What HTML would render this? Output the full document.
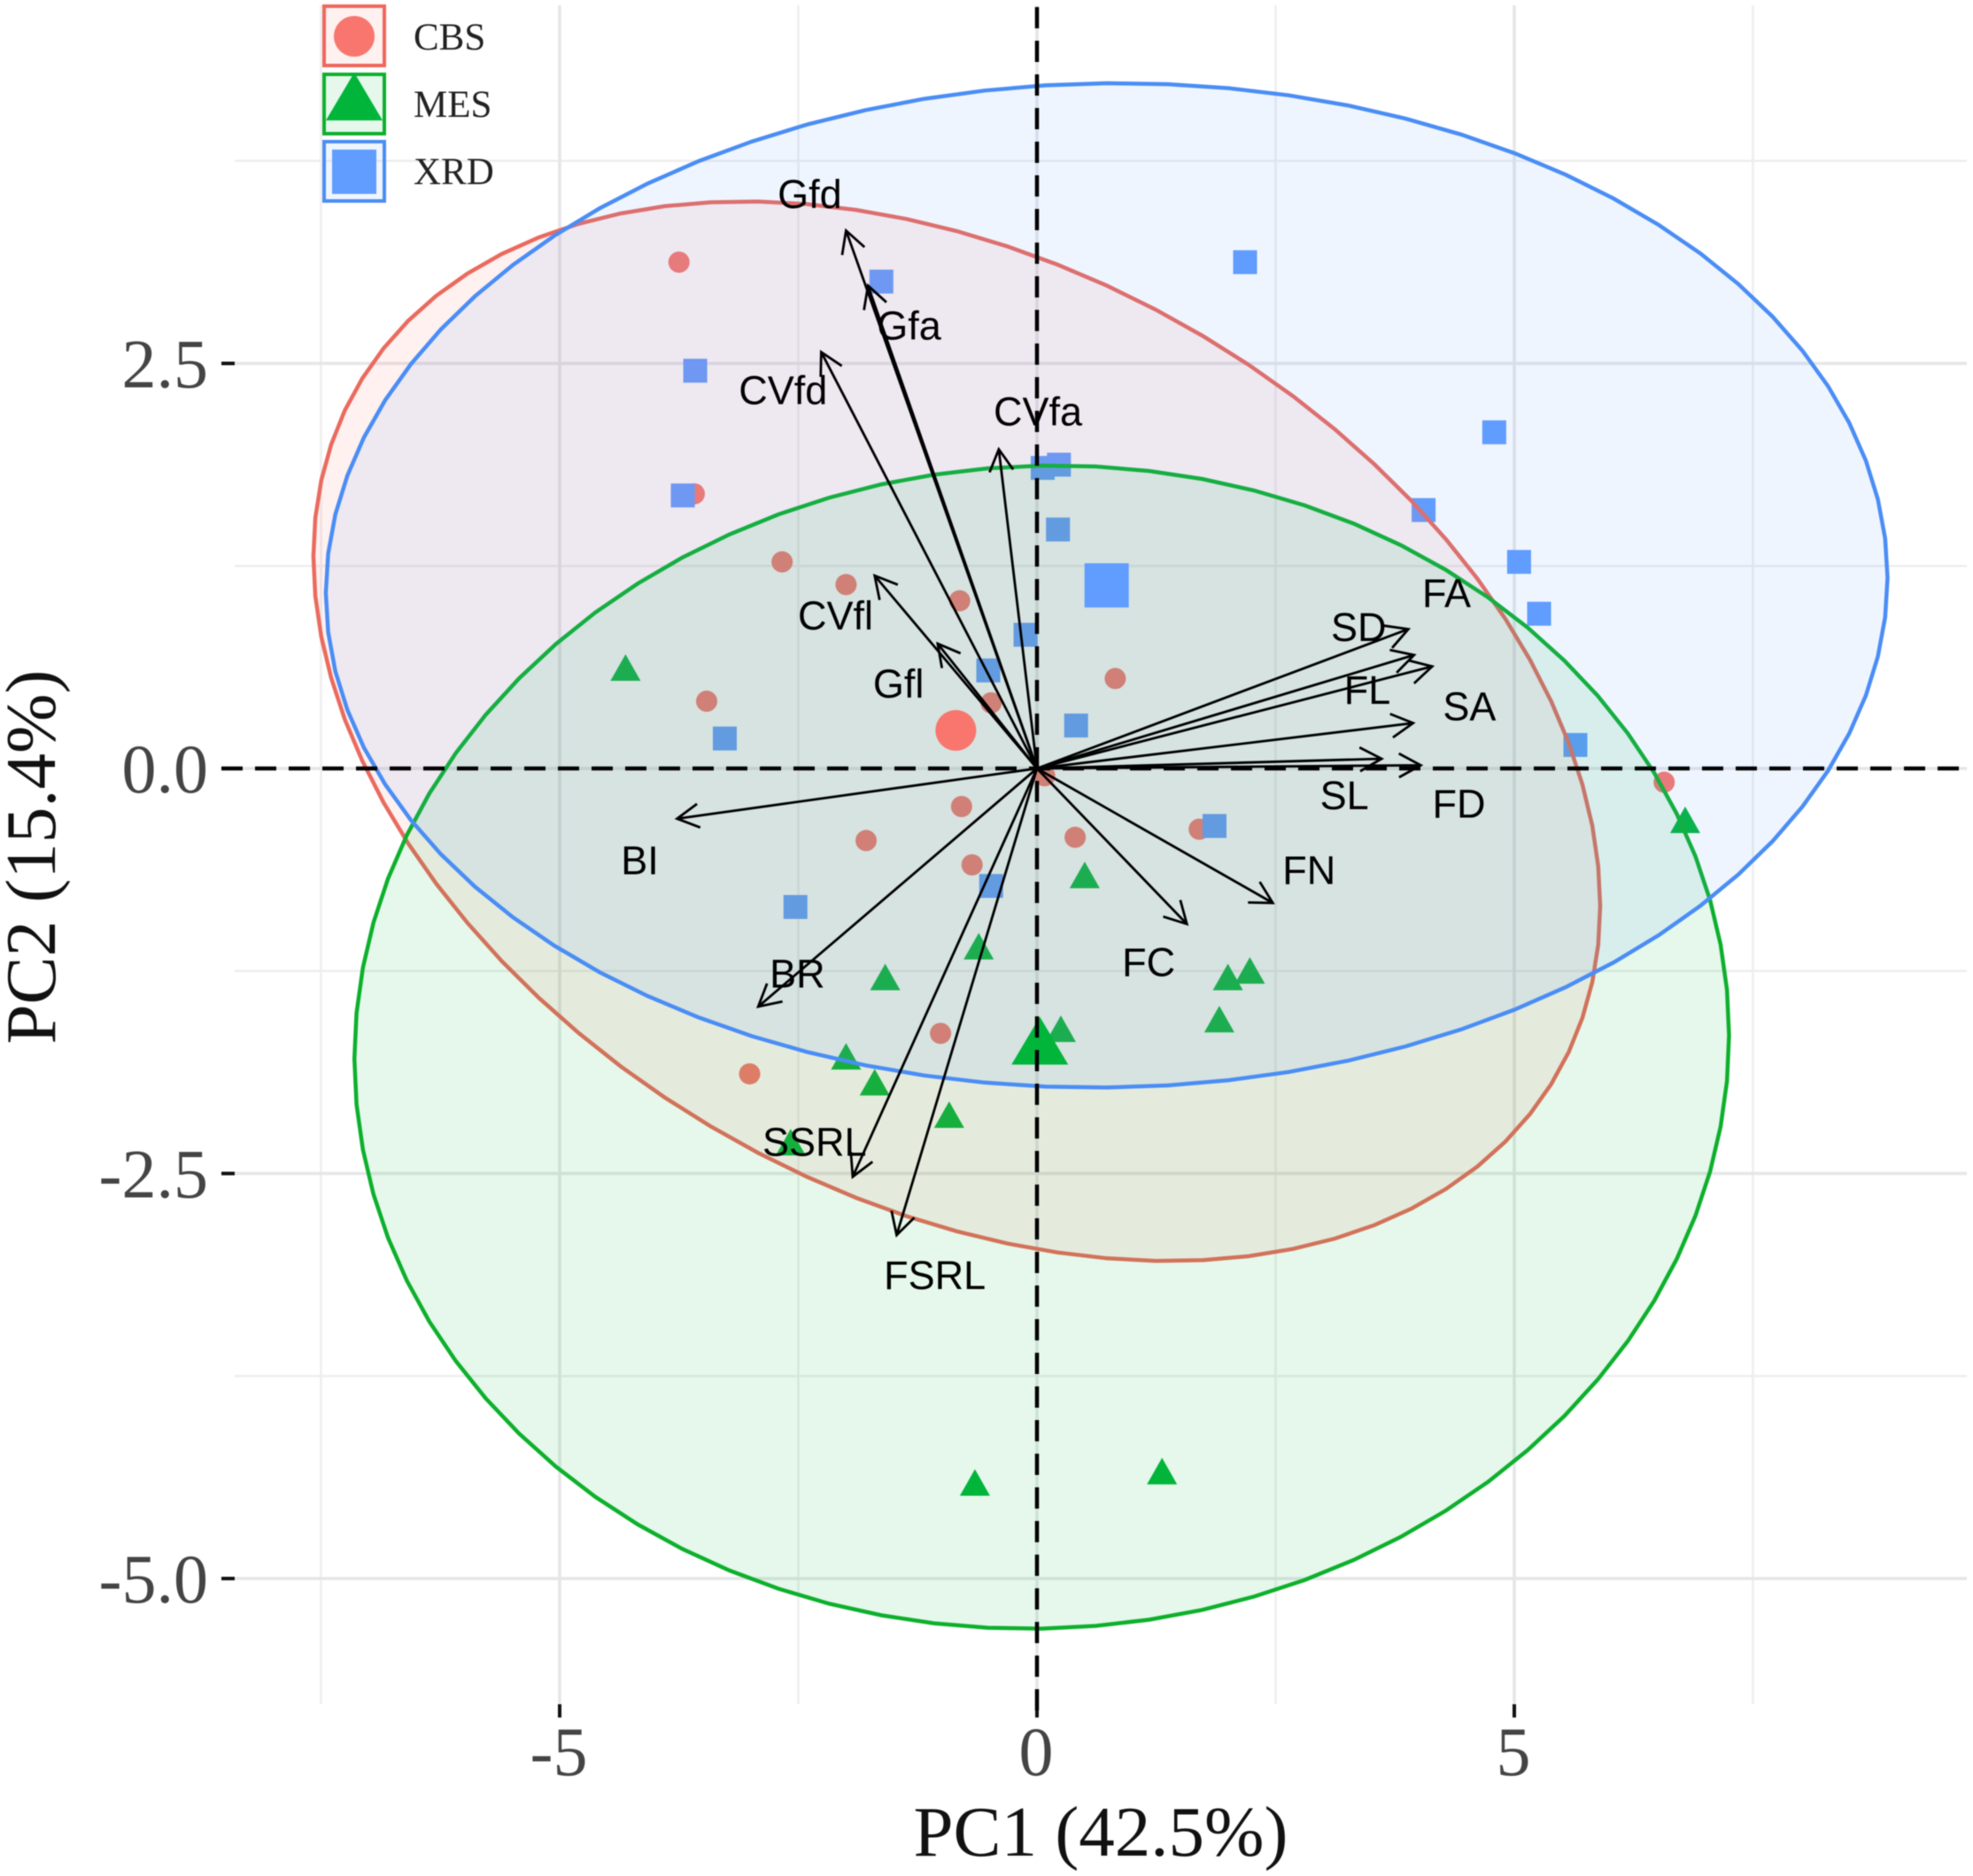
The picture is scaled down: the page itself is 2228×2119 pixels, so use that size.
<!DOCTYPE html>
<html lang="en">
<head>
<meta charset="utf-8">
<title>PCA biplot of CBS, MES and XRD</title>
<style>
html,body{margin:0;padding:0;background:#fff;}
#chart{display:block;width:2228px;height:2119px;filter:blur(0.6px);}
</style>
</head>
<body>
<svg id="chart" xmlns="http://www.w3.org/2000/svg" width="2228" height="2119" viewBox="0 0 2228 2119">
  <rect x="0" y="0" width="2228" height="2119" fill="#ffffff"/>
  <g id="grid"></g>
  <g id="ticks"></g>
  <g id="points"></g>
  <g id="ellipses"></g>
  <g id="means"></g>
  <g id="refs"></g>
  <g id="arrows"></g>
  <g id="labels"></g>
  <text x="1243" y="2096" text-anchor="middle" font-family="'Liberation Serif',serif" font-size="81" fill="#111">PC1 (42.5%)</text>
  <text transform="translate(62,968) rotate(-90)" text-anchor="middle" font-family="'Liberation Serif',serif" font-size="81" fill="#111">PC2 (15.4%)</text>
  <g>
    <g>
      <rect x="366" y="7" width="68" height="67" fill="#F8766D" fill-opacity="0.1" stroke="#F0665C" stroke-width="4"/>
      <circle cx="400" cy="41" r="23" fill="#F8766D"/>
      <text x="467" y="56" font-family="'Liberation Serif',serif" font-size="43" fill="#222">CBS</text>
    </g>
    <g>
      <rect x="366" y="84" width="68" height="67" fill="#00BA38" fill-opacity="0.1" stroke="#0DB02C" stroke-width="4"/>
      <polygon points="400,82 432,136 368,136" fill="#00B53A"/>
      <text x="467" y="132" font-family="'Liberation Serif',serif" font-size="43" fill="#222">MES</text>
    </g>
    <g>
      <rect x="366" y="160" width="68" height="67" fill="#619CFF" fill-opacity="0.1" stroke="#4A8DF5" stroke-width="4"/>
      <rect x="375" y="169" width="50" height="50" fill="#619CFF"/>
      <text x="467" y="208" font-family="'Liberation Serif',serif" font-size="43" fill="#222">XRD</text>
    </g>
  </g>
</svg>
<script>
// ---- axis tick data ----
const xMajorTicks = [-5, 0, 5];
const xMinorTicks = [-7.5, -2.5, 2.5, 7.5];
const yMajorTicks = [2.5, 0, -2.5, -5];
const yMinorTicks = [3.75, 1.25, -1.25, -3.75];
const yTickLabels = ['2.5', '0.0', '-2.5', '-5.0'];
const xTickLabels = ['-5', '0', '5'];

// ---- sample scores ----
const cbsX = [-3.75,-3.59,-2.67,-2.00,-0.81,-3.46,-0.48,0.82,-0.79,-1.79,-0.68,0.40,1.70,-1.01,-3.01,6.57,0.08];
const cbsY = [3.125,1.695,1.275,1.135,1.035,0.415,0.405,0.555,-0.235,-0.445,-0.595,-0.425,-0.375,-1.635,-1.885,-0.085,-0.045];
const mesX = [-4.31,6.79,0.50,-0.61,-1.59,2.00,2.23,1.91,0.25,-2.00,-1.70,-0.92,-2.58,1.31,-0.65];
const mesY = [0.615,-0.325,-0.665,-1.105,-1.295,-1.295,-1.255,-1.555,-1.615,-1.785,-1.945,-2.145,-2.315,-4.345,-4.415];
const xrdX = [2.18,-1.63,-3.58,4.79,0.23,0.06,-3.71,4.05,0.22,5.05,5.26,-0.12,-0.51,-3.27,0.41,5.64,1.86,-0.48,-2.53];
const xrdY = [3.125,3.005,2.455,2.075,1.875,1.855,1.685,1.595,1.475,1.275,0.955,0.825,0.605,0.185,0.265,0.145,-0.355,-0.725,-0.855];

// ---- group means ----
const cbsMean = [-0.85, 0.235];
const mesMean = [0.03, -1.695];
const xrdMean = [0.73, 1.13];

// ---- ellipse parameters: centre x, centre y, half-width, half-height, correlation ----
const cbsEllipse = [-0.84, 0.23, 6.74, 3.27, -0.33];
const mesEllipse = [0.05, -1.72, 7.20, 3.59, 0.02];
const xrdEllipse = [0.73, 1.13, 8.18, 3.10, 0.015];

// ---- variable loadings ----
const varNames = ['Gfd','Gfa','CVfd','CVfa','CVfl','Gfl','FA','SD','SA','FL','SL','FD','FN','FC','BI','BR','SSRL','FSRL'];
const loadX = [-2.00,-1.77,-2.26,-0.40,-1.70,-1.04,3.89,3.95,4.14,3.94,3.61,4.02,2.47,1.57,-3.77,-2.92,-1.93,-1.47];
const loadY = [3.32,2.98,2.57,1.97,1.19,0.77,0.86,0.70,0.63,0.28,0.06,0.02,-0.83,-0.96,-0.31,-1.47,-2.52,-2.88];
const labelX = [-2.38,-1.34,-2.66,0.01,-2.11,-1.45,4.29,3.37,4.53,3.46,3.22,4.42,2.85,1.17,-4.16,-2.51,-2.33,-1.07];
const labelY = [3.54,2.73,2.33,2.20,0.94,0.52,1.08,0.87,0.38,0.48,-0.17,-0.22,-0.63,-1.20,-0.57,-1.27,-2.31,-3.13];

// ---- axis functions ----
const sx = v => 1171 + 107.8 * v;
const sy = v => 868 - 183 * v;
const SVGNS = 'http://www.w3.org/2000/svg';
function mk(tag, parent, attrs) {
  const el = document.createElementNS(SVGNS, tag);
  for (const k in attrs) el.setAttribute(k, attrs[k]);
  parent.appendChild(el);
  return el;
}

// ---- grid ----
const gGrid = document.getElementById('grid');
const panelL = 265, panelR = 2221, panelT = 6, panelB = 1925;
xMinorTicks.forEach(v => {
  const el = mk('line', gGrid, {x1:sx(v), x2:sx(v), y1:panelT, y2:panelB, stroke:'#eeeeee', 'stroke-width':2.5});
  
  
});
yMinorTicks.forEach(v => {
  const el = mk('line', gGrid, {x1:panelL, x2:panelR, y1:sy(v), y2:sy(v), stroke:'#eeeeee', 'stroke-width':2.5});
  
  
});
xMajorTicks.forEach(v => {
  const el = mk('line', gGrid, {x1:sx(v), x2:sx(v), y1:panelT, y2:panelB, stroke:'#e6e6e8', 'stroke-width':3.5});
  
  
});
yMajorTicks.forEach(v => {
  const el = mk('line', gGrid, {x1:panelL, x2:panelR, y1:sy(v), y2:sy(v), stroke:'#e6e6e8', 'stroke-width':3.5});
  
  
});

// ---- ticks and tick labels ----
const gTicks = document.getElementById('ticks');
yMajorTicks.forEach((v, i) => {
  const t = mk('line', gTicks, {x1:250, x2:265, y1:sy(v), y2:sy(v), stroke:'#111', 'stroke-width':4});
  
  
  const l = mk('text', gTicks, {x:235, y:sy(v)+27, 'text-anchor':'end', 'font-family':"'Liberation Serif',serif", 'font-size':78, fill:'#444'});
  l.textContent = yTickLabels[i];
  
  
});
xMajorTicks.forEach((v, i) => {
  const t = mk('line', gTicks, {x1:sx(v), x2:sx(v), y1:1925, y2:1940, stroke:'#111', 'stroke-width':4});
  
  
  const l = mk('text', gTicks, {x:sx(v)-1, y:2005, 'text-anchor':'middle', 'font-family':"'Liberation Serif',serif", 'font-size':78, fill:'#444'});
  l.textContent = xTickLabels[i];
  
  
});

// ---- markers ----
function circle(parent, x, y, r, fill) {
  return mk('circle', parent, {cx:sx(x), cy:sy(y), r:r, fill:fill});
}
function triangle(parent, x, y, w, h, fill) {
  const cx = sx(x), cy = sy(y);
  return mk('polygon', parent, {points:[cx, cy-h*0.55, cx+w/2, cy+h*0.45, cx-w/2, cy+h*0.45].join(' '), fill:fill});
}
function square(parent, x, y, s, fill) {
  return mk('rect', parent, {x:sx(x)-s/2, y:sy(y)-s/2, width:s, height:s, fill:fill});
}
const gPoints = document.getElementById('points');
cbsX.forEach((x, i) => {
  const el = circle(gPoints, x, cbsY[i], 12, '#F8766D');
  
  
});
mesX.forEach((x, i) => {
  const el = triangle(gPoints, x, mesY[i], 34, 30, '#00B53A');
  
  
});
xrdX.forEach((x, i) => {
  const el = square(gPoints, x, xrdY[i], 27, '#619CFF');
  
  
});

// ---- ellipses ----
function ellipsePath(p) {
  const [cx, cy, rx, ry, rho] = p;
  const segs = 80, k = Math.sqrt(1 - rho * rho);
  let d = '';
  for (let i = 0; i < segs; i++) {
    const t = i / segs * 2 * Math.PI;
    const x = cx + rx * Math.cos(t);
    const y = cy + ry * (rho * Math.cos(t) + k * Math.sin(t));
    d += (i ? 'L' : 'M') + sx(x).toFixed(1) + ' ' + sy(y).toFixed(1);
  }
  return d + 'Z';
}
const gEll = document.getElementById('ellipses');
const elCbs = mk('path', gEll, {d:ellipsePath(cbsEllipse), fill:'#F8766D', 'fill-opacity':0.1, stroke:'#EA6A5E', 'stroke-width':4.5});


const elMes = mk('path', gEll, {d:ellipsePath(mesEllipse), fill:'#00BA38', 'fill-opacity':0.1, stroke:'#0DB02C', 'stroke-width':4.5});


const elXrd = mk('path', gEll, {d:ellipsePath(xrdEllipse), fill:'#619CFF', 'fill-opacity':0.1, stroke:'#4A8DF5', 'stroke-width':4.5});



// ---- group means ----
const gMeans = document.getElementById('means');
const mCbs = circle(gMeans, cbsMean[0], cbsMean[1], 23, '#F8766D');


const mMes = triangle(gMeans, mesMean[0], mesMean[1], 64, 54, '#00B53A');


const mXrd = square(gMeans, xrdMean[0], xrdMean[1], 50, '#619CFF');



// ---- dashed zero lines ----
const gRefs = document.getElementById('refs');
const hRef = mk('line', gRefs, {x1:250, x2:2224, y1:sy(0), y2:sy(0), stroke:'#000', 'stroke-width':4.5, 'stroke-dasharray':'24 14'});


const vRef = mk('line', gRefs, {x1:sx(0), x2:sx(0), y1:8, y2:1940, stroke:'#000', 'stroke-width':4.5, 'stroke-dasharray':'24 14'});



// ---- arrows and labels ----
const gArrows = document.getElementById('arrows');
const gLabels = document.getElementById('labels');
varNames.forEach((n, i) => {
  const x0 = sx(0), y0 = sy(0), x1 = sx(loadX[i]), y1 = sy(loadY[i]);
  const a = Math.atan2(y1 - y0, x1 - x0), len = 28, w = 0.5;
  const d = 'M' + x0 + ' ' + y0 + 'L' + x1 + ' ' + y1 +
    'M' + (x1 - len * Math.cos(a - w)) + ' ' + (y1 - len * Math.sin(a - w)) +
    'L' + x1 + ' ' + y1 +
    'L' + (x1 - len * Math.cos(a + w)) + ' ' + (y1 - len * Math.sin(a + w));
  const ar = mk('path', gArrows, {d:d, fill:'none', stroke:'#000', 'stroke-width':2.8});
  
  
  const lb = mk('text', gLabels, {x:sx(labelX[i]), y:sy(labelY[i]) + 15, 'text-anchor':'middle', 'font-family':"'Liberation Sans',sans-serif", 'font-size':45, fill:'#000'});
  lb.textContent = n;
  
  
});
</script>
</body>
</html>
